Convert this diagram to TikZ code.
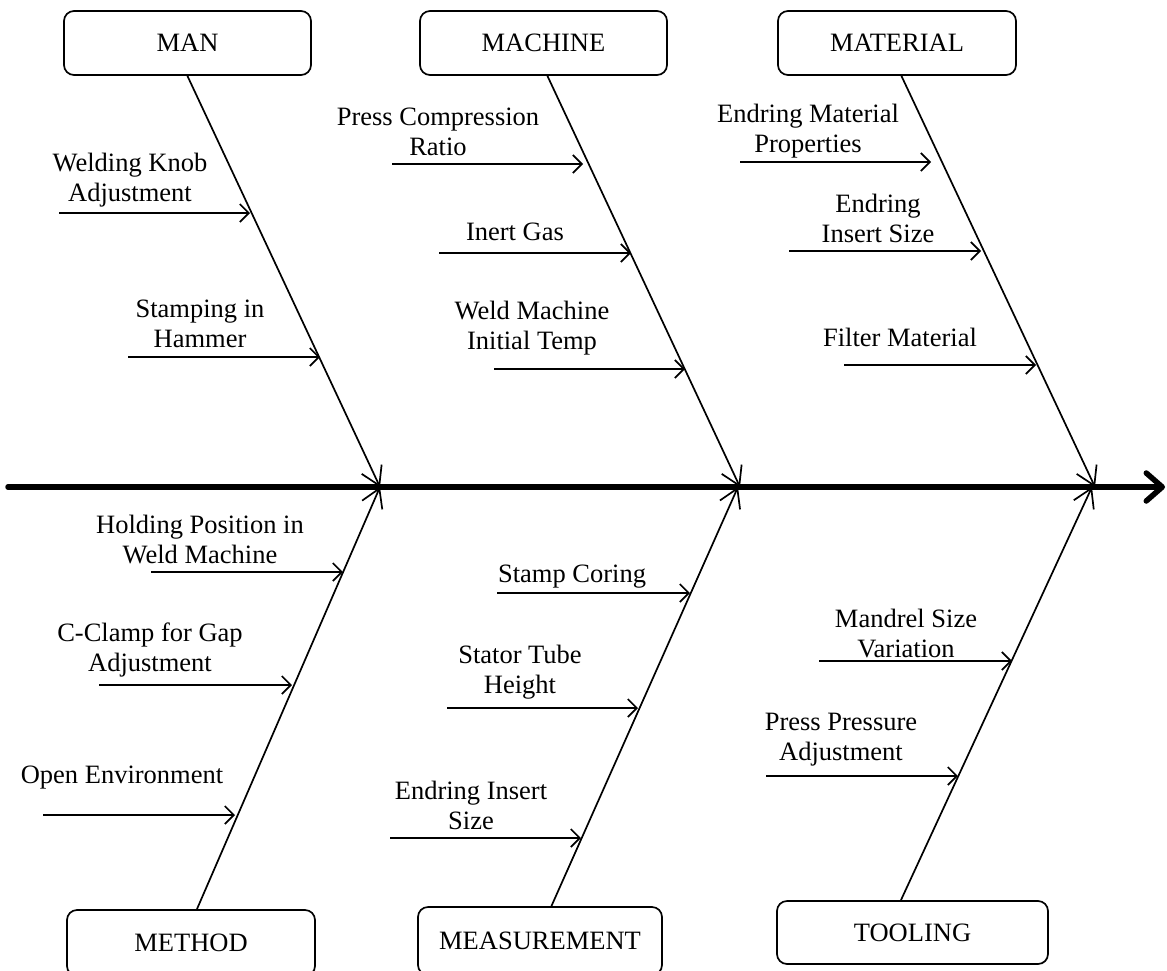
\documentclass[tikz,border=0pt]{standalone}
\usepackage{fontspec}
\setmainfont{Liberation Serif}
\usetikzlibrary{arrows.meta}
\begin{document}
\begin{tikzpicture}[x=1pt,y=-1pt,
  every node/.style={font=\fontsize{26.5}{30}\selectfont},
  cat/.style={draw,line width=1.7pt,rounded corners=10pt,inner sep=0pt},
  lbl/.style={align=center,inner sep=0pt},
  bone/.style={line width=1.7pt,-{Straight Barb[length=18pt,width=22pt,line width=1.7pt]}},
  sub/.style={line width=1.7pt,-{Straight Barb[length=9pt,width=18pt,line width=1.7pt]}},
  spine/.style={line width=5.5pt,line cap=round,-{Straight Barb[length=16pt,width=28pt,line width=5.5pt,line cap=round,line join=round]}}
]
\useasboundingbox (0,0) rectangle (1167,970);
% category boxes
\node[cat,minimum width=247pt,minimum height=64pt] (man) at (187.5,43) {MAN};
\node[cat,minimum width=247pt,minimum height=64pt] (machine) at (543.5,43) {MACHINE};
\node[cat,minimum width=238pt,minimum height=64pt] (material) at (897,43) {MATERIAL};
\node[cat,minimum width=248pt,minimum height=66pt] (method) at (191,943) {METHOD};
\node[cat,minimum width=244pt,minimum height=68pt] (measurement) at (540,941) {MEASUREMENT};
\node[cat,minimum width=271pt,minimum height=63pt] (tooling) at (912.5,932.5) {TOOLING};
% spine
\coordinate (spL) at (8,487);
\coordinate (spR) at (1165,487);
\draw[spine] (spL) -- (spR);
% bone coordinates
\coordinate (manT) at (187,75);   \coordinate (manE) at (380,487);
\coordinate (macT) at (547,75);   \coordinate (macE) at (740,487);
\coordinate (matT) at (901,75);   \coordinate (matE) at (1095,487);
\coordinate (metB) at (197,909);  \coordinate (metE) at (380,487);
\coordinate (meaB) at (551,907);  \coordinate (meaE) at (738,487);
\coordinate (tooB) at (901,900);  \coordinate (tooE) at (1092,487);
\draw[bone] (manT) -- (manE);
\draw[bone] (macT) -- (macE);
\draw[bone] (matT) -- (matE);
\draw[bone] (metB) -- (metE);
\draw[bone] (meaB) -- (meaE);
\draw[bone] (tooB) -- (tooE);
% labels
\node[lbl] (l1) at (130,180) {Welding Knob\\Adjustment};
\node[lbl] (l2) at (200,324) {Stamping in\\Hammer};
\node[lbl] (l3) at (438,132) {Press Compression\\Ratio};
\node[lbl] (l4) at (515,232) {Inert Gas};
\node[lbl] (l5) at (532,328) {Weld Machine\\Initial Temp};
\node[lbl] (l6) at (808,131) {Endring Material\\Properties};
\node[lbl] (l7) at (878,218) {Endring\\Insert Size};
\node[lbl] (l8) at (900,337) {Filter Material};
\node[lbl] (l9) at (200,539) {Holding Position in\\Weld Machine};
\node[lbl] (l10) at (150,650) {C-Clamp for Gap\\Adjustment};
\node[lbl] (l11) at (122,778) {Open Environment};
\node[lbl] (l12) at (572,577) {Stamp Coring};
\node[lbl] (l13) at (520,672) {Stator Tube\\Height};
\node[lbl] (l14) at (471,805) {Endring Insert\\Size};
\node[lbl] (l15) at (906,633) {Mandrel Size\\Variation};
\node[lbl] (l16) at (841,740) {Press Pressure\\Adjustment};
% sub-cause arrows
\coordinate (a1s) at (59,213);   \coordinate (a1e) at (250,213);
\coordinate (a2s) at (128,357);  \coordinate (a2e) at (320,357);
\coordinate (a3s) at (392,164);  \coordinate (a3e) at (583,164);
\coordinate (a4s) at (439,253);  \coordinate (a4e) at (631,253);
\coordinate (a5s) at (494,369);  \coordinate (a5e) at (685,369);
\coordinate (a6s) at (740,162);  \coordinate (a6e) at (931,162);
\coordinate (a7s) at (789,251);  \coordinate (a7e) at (981,251);
\coordinate (a8s) at (844,365);  \coordinate (a8e) at (1036,365);
\coordinate (a9s) at (151,572);  \coordinate (a9e) at (343,572);
\coordinate (a10s) at (99,685);  \coordinate (a10e) at (292,685);
\coordinate (a11s) at (43,815);  \coordinate (a11e) at (235,815);
\coordinate (a12s) at (497,593); \coordinate (a12e) at (690,593);
\coordinate (a13s) at (447,708); \coordinate (a13e) at (638,708);
\coordinate (a14s) at (390,838); \coordinate (a14e) at (581,838);
\coordinate (a15s) at (819,661); \coordinate (a15e) at (1012,661);
\coordinate (a16s) at (766,776); \coordinate (a16e) at (958,776);
\foreach \i in {1,...,16} {\draw[sub] (a\i s) -- (a\i e);}
\end{tikzpicture}
\end{document}
